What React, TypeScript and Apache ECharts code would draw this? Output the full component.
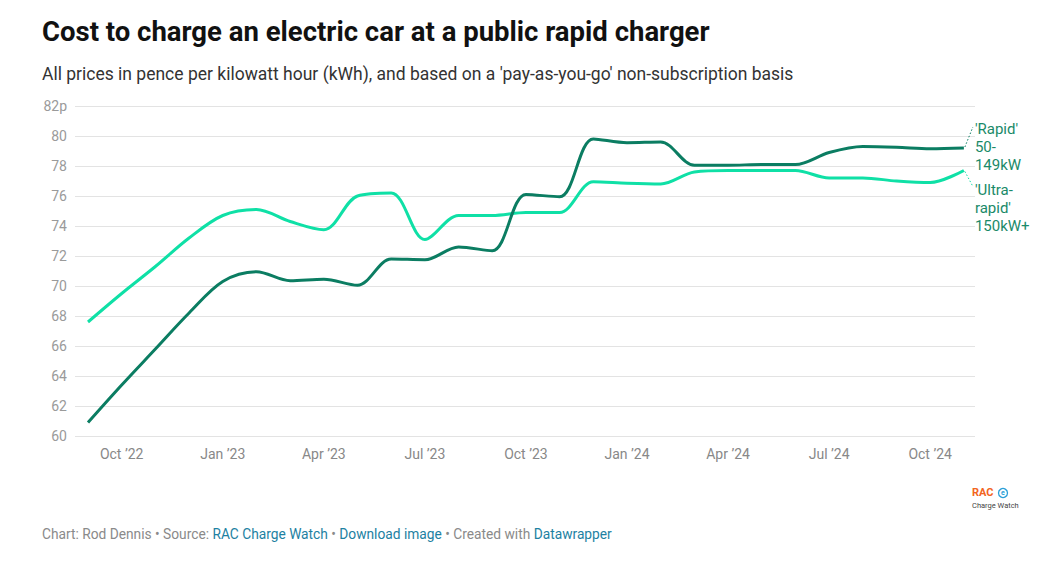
import React, { useEffect, useRef } from "react";
import * as echarts from "echarts";

const months = [
  "Sep 22", "Oct 22", "Nov 22", "Dec 22", "Jan 23", "Feb 23", "Mar 23", "Apr 23", "May 23",
  "Jun 23", "Jul 23", "Aug 23", "Sep 23", "Oct 23", "Nov 23", "Dec 23", "Jan 24", "Feb 24",
  "Mar 24", "Apr 24", "May 24", "Jun 24", "Jul 24", "Aug 24", "Sep 24", "Oct 24", "Nov 24",
];

const rapid = [
  60.9, 63.4, 65.8, 68.2, 70.3, 70.95, 70.35, 70.45, 70.05, 71.8, 71.75, 72.6, 72.35, 76.1,
  75.95, 79.8, 79.55, 79.6, 78.05, 78.05, 78.1, 78.1, 78.9, 79.3, 79.25, 79.15, 79.2,
];

const ultraRapid = [
  67.6, 69.5, 71.3, 73.2, 74.7, 75.1, 74.3, 73.75, 76.0, 76.2, 73.1, 74.7, 74.7, 74.9,
  74.9, 76.95, 76.85, 76.8, 77.6, 77.7, 77.7, 77.7, 77.2, 77.2, 77.0, 76.9, 77.7,
];

const xTickIndex = [1, 4, 7, 10, 13, 16, 19, 22, 25];
const xTickLabels = ["Oct \u201922", "Jan \u201923", "Apr \u201923", "Jul \u201923", "Oct \u201923", "Jan \u201924", "Apr \u201924", "Jul \u201924", "Oct \u201924"];

const rapidLabel = "'Rapid'\n50-\n149kW";
const ultraLabel = "'Ultra-\nrapid'\n150kW+";

const DARK = "#0b7d62";
const LIGHT = "#0fe0a6";
const LABEL = "#1a8a68";
const FONT = "Roboto, 'Noto Sans', sans-serif";

export default function App() {
  const ref = useRef<HTMLDivElement>(null);

  useEffect(() => {
    document.body.style.margin = "0";
    const chart = echarts.init(ref.current!, undefined, { renderer: "svg" });
    chart.setOption({
      animation: false,
      textStyle: { fontFamily: FONT },
      grid: { left: 75, right: 80, top: 106, bottom: 136, containLabel: false },
      xAxis: {
        type: "value",
        min: -0.386,
        max: 26.33,
        axisLine: { show: false },
        axisTick: { show: false },
        splitLine: { show: false },
        axisLabel: {
          customValues: xTickIndex,
          formatter: (v: number) => {
            const i = xTickIndex.indexOf(Math.round(v));
            return i >= 0 ? xTickLabels[i] : "";
          },
          color: "#888888",
          fontSize: 14,
          fontFamily: FONT,
          margin: 11,
        },
      },
      yAxis: {
        type: "value",
        min: 60,
        max: 82,
        interval: 2,
        axisLine: { show: false },
        axisTick: { show: false },
        splitLine: { lineStyle: { color: "#e3e3e3", width: 1 } },
        axisLabel: {
          formatter: (v: number) => (v === 82 ? "82p" : String(v)),
          color: "#9a9a9a",
          fontSize: 14,
          fontFamily: FONT,
          margin: 8,
        },
      },
      series: [
        {
          name: "Ultra-rapid",
          type: "line",
          data: ultraRapid.map((v, i) => [i, v]),
          symbol: "none",
          smooth: 0.33,
          lineStyle: { color: LIGHT, width: 3 },
          z: 2,
        },
        {
          name: "Rapid",
          type: "line",
          data: rapid.map((v, i) => [i, v]),
          symbol: "none",
          smooth: 0.33,
          lineStyle: { color: DARK, width: 3 },
          z: 3,
        },
      ],
      title: [
        {
          text: "Cost to charge an electric car at a public rapid charger",
          left: 42,
          top: 17,
          padding: 0,
          textStyle: { fontFamily: FONT, fontSize: 27.5, fontWeight: "bold", color: "#111111" },
        },
        {
          text: "All prices in pence per kilowatt hour (kWh), and based on a 'pay-as-you-go' non-subscription basis",
          left: 42,
          top: 65,
          padding: 0,
          textStyle: { fontFamily: FONT, fontSize: 17.5, fontWeight: "normal", color: "#333333" },
        },
      ],
    });

    const last = months.length - 1;
    const pR = chart.convertToPixel({ seriesIndex: 1 }, [last, rapid[last]]) as number[];
    const pU = chart.convertToPixel({ seriesIndex: 0 }, [last, ultraRapid[last]]) as number[];

    chart.setOption({
      graphic: [
        {
          type: "line",
          shape: { x1: pR[0] + 1, y1: pR[1] - 1, x2: pR[0] + 9, y2: pR[1] - 21 },
          style: { stroke: DARK, lineWidth: 1, lineDash: [1.5, 2] },
        },
        {
          type: "line",
          shape: { x1: pU[0] + 1, y1: pU[1] + 1, x2: pU[0] + 9, y2: pU[1] + 16 },
          style: { stroke: LIGHT, lineWidth: 1, lineDash: [1.5, 2] },
        },
        {
          type: "text",
          x: pR[0] + 11,
          y: pR[1] - 28,
          style: { text: rapidLabel, fill: LABEL, font: `15px ${FONT}`, lineHeight: 18, verticalAlign: "top" },
        },
        {
          type: "text",
          x: pU[0] + 11,
          y: pU[1] + 10,
          style: { text: ultraLabel, fill: LABEL, font: `15px ${FONT}`, lineHeight: 18, verticalAlign: "top" },
        },
        {
          type: "text",
          left: 42,
          top: 527,
          style: {
            text: "{g|Chart: Rod Dennis \u2022 Source: }{b|RAC Charge Watch}{g| \u2022 }{b|Download image}{g| \u2022 Created with }{b|Datawrapper}",
            font: `13.75px ${FONT}`,
            rich: {
              g: { fill: "#8a8a8a", fontSize: 13.75, fontFamily: FONT },
              b: { fill: "#1d81a2", fontSize: 13.75, fontFamily: FONT },
            },
          },
        },
        {
          type: "text",
          left: 972,
          top: 487,
          style: { text: "RAC", fill: "#f26522", font: `bold 11px ${FONT}` },
        },
        {
          type: "circle",
          shape: { cx: 1003, cy: 493, r: 4.5 },
          style: { fill: "none", stroke: "#2a9fd8", lineWidth: 1.3 },
        },
        {
          type: "text",
          x: 1003,
          y: 493,
          style: { text: "e", fill: "#2a9fd8", font: `bold 7px ${FONT}`, align: "center", verticalAlign: "middle" },
        },
        {
          type: "text",
          left: 972,
          top: 501,
          style: { text: "Charge Watch", fill: "#444444", font: `7.5px ${FONT}` },
        },
      ],
    });

    return () => chart.dispose();
  }, []);

  return <div ref={ref} style={{ width: 1055, height: 572 }} />;
}
